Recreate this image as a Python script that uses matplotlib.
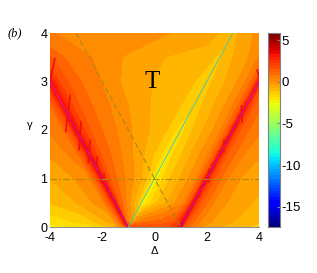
import numpy as np
import matplotlib
matplotlib.use("Agg")
import matplotlib.pyplot as plt

# gamma rows of the sampled field
gamma = [0,.1,.5,1,1.5,2,2.5,3,3.5,4]
# each row: values read at columns that follow the ridge (L), valley (V) and ridge (R)
field = [
 [-2.2,-1.8,-.8,.5,3.5, 3,3,3,3,3,3,2, 2,1.8,1.8,2,2.5,4, 1.8,1,0,-.5,-1.2],
 [-1.9,-1.3,-.3,1.2,3.7, 1.5,1,.8,.6,.4,.2,-.5, .5,1,1.2,1.5,2.5,3.7, 2,1.2,.2,-.3,-1.0],
 [-1.2,-.5,.3,1.6,3.7, 2.3,1.5,.9,.2,-.5,-1.2,-2.5, -1.8,-1.0,-.3,.5,1.6,3.7, 2.3,1.5,.4,-.2,-.8],
 [-.9,-.3,.4,1.8,3.7, 2.4,1.5,.9,.3,-.3,-1.2,-2.5, -1.7,-1.0,-.3,.5,1.6,3.7, 2.3,1.5,.5,-.2,-.6],
 [-.5,.1,.7,1.9,3.6, 2.4,1.5,.9,.2,-.5,-1.3,-2.3, -1.5,-.9,-.2,.6,1.6,3.6, 2.3,1.5,.6,.1,-.3],
 [0,.3,.9,1.9,3.6, 2.3,1.4,.8,.1,-.5,-1.1,-1.9, -1.3,-.8,-.2,.6,1.6,3.6, 2.3,1.5,.7,.3,0],
 [.2,.5,1,2,3.5, 2.2,1.3,.7,0,-.6,-1,-1.5, -1.1,-.7,-.1,.7,1.6,3.5, 2.3,1.5,.7,.3,0],
 [.3,.6,1.1,2.1,3.5, 2.1,1.2,.6,-.2,-.6,-.9,-1.3, -1,-.6,-.1,.7,1.7,3.5, 2,1.2,.6,.3,0],
 [.5,.8,1.3,2,2.5, 1.7,1,.5,-.1,-.5,-.7,-1.1, -.8,-.4,0,.7,1.5,3, 2,1.2,.6,.3,0],
 [.6,.8,1,1.2,1.5, .8,.5,.4,.5,0,-.3,-.9, -.5,-.1,.2,.5,1,2, 1.5,1,.6,.3,0],
]
left_offsets = [-3,-1.5,-.5,-.2,0]
mid_fractions = [.05,.15,.3,.5,.7,.9,1]
centre_offsets = [.2,.6,1.1,1.6,1.85,2]
right_offsets = [.1,.3,.8,1.5,3]

ridge_left_x = [-1,-4]; ridge_left_y = [0,3]
ridge_right_x = [1,4]; ridge_right_y = [0,3]
valley_x = [-1,3]; valley_y = [0,4]
dash_x = [-3,1]; dash_y = [4,0]
dashdot_x = [-4,4]; dashdot_y = [1,1]
spikes = [
 ([-4,-3.81],[3,3.48]), ([-3.23,-3.4],[2.72,1.96]), ([-2.81,-2.89],[2.17,1.59]),
 ([-2.47,-2.54],[1.79,1.32]), ([-2.2,-2.2],[1.44,1.18]), ([-1.95,-1.95],[1.1,.95]),
 ([3.93,4],[3.24,3.1]), ([3.32,3.36],[2.5,2.17]), ([2.67,2.67],[1.8,1.55]), ([2.09,2.09],[1.18,.93]),
]
cbar_ticks = [5,0,-5,-10,-15]
x_ticks = [-4,-2,0,2,4]
y_ticks = [0,1,2,3,4]
vmin, vmax = -17.4, 5.84

plt.rcParams['font.family'] = ['Liberation Sans','DejaVu Sans']
plt.rcParams['axes.unicode_minus'] = False
W,H = 317,273
fig = plt.figure(figsize=(W/100,H/100),dpi=100)
ax = fig.add_axes([50/W,1-227/H,209/W,194/H])

X = []
for g in gamma:
    L, V, R = -1-g, g-1, g+1
    X.append([L+o for o in left_offsets] + [L+f*(V-L) for f in mid_fractions]
             + [V+o for o in centre_offsets] + [R+o for o in right_offsets])
Y = [[g]*len(X[0]) for g in gamma]
levels = np.arange(-17.5,6.01,.5)
ax.contourf(X,Y,field,levels=levels,cmap='jet',vmin=vmin,vmax=vmax,extend='both')
for sx,sy in spikes:
    ax.plot(sx,sy,color='#f01010',lw=1.2,solid_capstyle='round')
ax.plot(ridge_left_x,ridge_left_y,color='#c020e0',lw=.6)
ax.plot(ridge_right_x,ridge_right_y,color='#c020e0',lw=.6)
ax.plot(valley_x,valley_y,color='#50c8a0',lw=.7)
ax.plot(dash_x,dash_y,color='#a08a20',lw=.8,dashes=(5,3))
ax.plot(dashdot_x,dashdot_y,color='#b08a10',lw=.8,dashes=(6,2,1.5,2))
ax.set_xlim(-4,4); ax.set_ylim(0,4)
ax.set_xticks(x_ticks); ax.set_yticks(y_ticks)
ax.tick_params(axis='x',length=0,labelsize=9,pad=3.5)
ax.tick_params(axis='y',length=0,labelsize=9,pad=2)
for s in ax.spines.values():
    s.set_visible(False)
ax.spines['bottom'].set_visible(True); ax.spines['bottom'].set_color('#909090')
ax.text(-0.1,3,'T',ha='center',va='center',fontsize=18,family='Liberation Serif')
fig.text(8/W,1-33/H,'(b)',fontsize=9,family='Liberation Serif',style='italic',va='center')
fig.text(154/W,1-251/H,'Δ',fontsize=8,ha='center',va='center')
fig.text(30/W,1-125/H,'γ',fontsize=8,ha='center',va='center')
cax = fig.add_axes([268/W,1-227/H,12/W,194/H])
grad = np.linspace(vmin,vmax,64).reshape(-1,1)
cax.imshow(grad,aspect='auto',origin='lower',cmap='jet',vmin=vmin,vmax=vmax,extent=[0,1,vmin,vmax])
cax.set_xticks([])
cax.yaxis.tick_right()
cax.set_yticks(cbar_ticks)
cax.tick_params(axis='y',length=2,color='#808080',labelsize=9.5,pad=1,direction='in')
for s in cax.spines.values():
    s.set_color('#808080')
fig.savefig('out.png',dpi=100)
